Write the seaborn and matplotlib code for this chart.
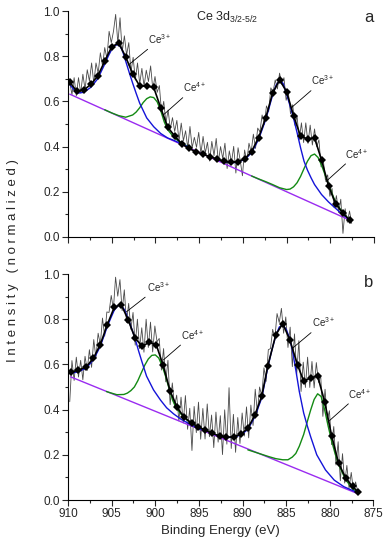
import numpy as np
import matplotlib
import matplotlib.pyplot as plt
import seaborn as sns
from matplotlib.ticker import MultipleLocator

matplotlib.use('Agg')

# ---------------- panel a ----------------
raw_a = [0.685, 0.630, 0.705, 0.625, 0.705, 0.637, 0.720, 0.653, 0.740, 0.690,
         0.770, 0.680, 0.770, 0.725, 0.815, 0.757, 0.838, 0.790, 0.910, 0.860,
         0.910, 0.985, 0.858, 0.970, 0.820, 0.890, 0.805, 0.860, 0.730, 0.795,
         0.695, 0.770, 0.678, 0.746, 0.666, 0.738, 0.688, 0.757, 0.654, 0.710,
         0.640, 0.670, 0.550, 0.600, 0.505, 0.562, 0.478, 0.528, 0.467, 0.516,
         0.425, 0.504, 0.426, 0.470, 0.394, 0.489, 0.395, 0.441, 0.397, 0.463,
         0.369, 0.445, 0.372, 0.419, 0.336, 0.423, 0.360, 0.436, 0.333, 0.400,
         0.347, 0.415, 0.303, 0.381, 0.330, 0.401, 0.283, 0.395, 0.338, 0.271,
         0.385, 0.335, 0.415, 0.376, 0.455, 0.392, 0.482, 0.465, 0.540, 0.498,
         0.580, 0.555, 0.660, 0.640, 0.695, 0.655, 0.725, 0.675, 0.705, 0.605,
         0.640, 0.545, 0.585, 0.495, 0.535, 0.430, 0.505, 0.418, 0.505, 0.414,
         0.495, 0.407, 0.478, 0.400, 0.430, 0.310, 0.340, 0.250, 0.275, 0.180,
         0.215, 0.130, 0.183, 0.108, 0.167, 0.016, 0.125, 0.065, 0.115, 0.060]
raw_a_e = np.linspace(909.8, 877.55, len(raw_a))

fit_a_e = np.linspace(909.8, 877.8, 41)
fit_a = [0.685, 0.645, 0.650, 0.675, 0.712, 0.778, 0.842, 0.858, 0.797, 0.721,
         0.668, 0.668, 0.662, 0.572, 0.486, 0.447, 0.412, 0.392, 0.378, 0.366,
         0.356, 0.346, 0.336, 0.330, 0.334, 0.345, 0.378, 0.440, 0.525, 0.636,
         0.695, 0.643, 0.537, 0.446, 0.434, 0.438, 0.341, 0.226, 0.148, 0.108,
         0.075]

ce3_a1_e = [909.8, 909.0, 908.2, 907.4, 906.6, 905.8, 905.4, 905.0, 904.6, 904.2,
            903.8, 903.4, 903.0, 902.6, 902.2, 901.8, 901.0, 900.2, 899.4, 898.6,
            897.8, 897.0, 896.2]
ce3_a1 = [0.675, 0.636, 0.640, 0.662, 0.700, 0.765, 0.800, 0.830, 0.848, 0.852,
          0.828, 0.778, 0.728, 0.680, 0.635, 0.592, 0.527, 0.488, 0.458, 0.438,
          0.426, 0.412, 0.398]
ce4_a1_e = [905.8, 905.0, 904.2, 903.4, 902.6, 902.2, 901.8, 901.4, 901.0, 900.6,
            900.2, 899.8, 899.4, 899.0, 898.6, 897.8, 897.0, 896.2]
ce4_a1 = [0.563, 0.549, 0.537, 0.530, 0.540, 0.553, 0.572, 0.595, 0.612, 0.620,
          0.617, 0.598, 0.560, 0.510, 0.475, 0.437, 0.415, 0.399]
ce3_a2_e = [893.0, 892.2, 891.4, 890.6, 889.8, 889.0, 888.2, 887.4, 887.0, 886.6,
            886.2, 885.8, 885.4, 885.0, 884.6, 884.2, 883.8, 883.4, 883.0, 882.6,
            882.2, 881.8, 881.0, 880.2, 879.4, 878.6, 877.8]
ce3_a2 = [0.343, 0.334, 0.327, 0.332, 0.342, 0.373, 0.432, 0.518, 0.572, 0.628,
          0.672, 0.692, 0.680, 0.632, 0.580, 0.525, 0.462, 0.395, 0.335, 0.295,
          0.262, 0.232, 0.188, 0.155, 0.127, 0.100, 0.077]
ce4_a2_e = [889.0, 888.2, 887.4, 886.6, 885.8, 885.0, 884.6, 884.2, 883.8, 883.4,
            883.0, 882.6, 882.2, 881.8, 881.4, 881.0, 880.6, 880.2, 879.8, 879.4,
            878.6, 877.8]
ce4_a2 = [0.270, 0.257, 0.245, 0.232, 0.218, 0.210, 0.212, 0.222, 0.240, 0.268,
          0.303, 0.336, 0.360, 0.367, 0.352, 0.318, 0.275, 0.232, 0.192, 0.155,
          0.108, 0.076]
bg_a_e = [909.8, 877.8]
bg_a = [0.632, 0.075]

# ---------------- panel b ----------------
raw_b = [0.435, 0.617, 0.529, 0.632, 0.544, 0.618, 0.532, 0.636, 0.573, 0.665,
         0.587, 0.710, 0.628, 0.738, 0.688, 0.805, 0.725, 0.832, 0.830, 0.905,
         0.845, 0.986, 0.902, 0.975, 0.838, 0.930, 0.785, 0.870, 0.755, 0.830,
         0.685, 0.800, 0.670, 0.762, 0.654, 0.800, 0.675, 0.787, 0.655, 0.770,
         0.700, 0.715, 0.575, 0.670, 0.523, 0.618, 0.422, 0.518, 0.415, 0.464,
         0.350, 0.455, 0.341, 0.462, 0.313, 0.406, 0.219, 0.414, 0.298, 0.433,
         0.269, 0.405, 0.270, 0.425, 0.280, 0.376, 0.232, 0.389, 0.256, 0.373,
         0.201, 0.399, 0.247, 0.497, 0.228, 0.379, 0.211, 0.365, 0.250, 0.385,
         0.283, 0.412, 0.275, 0.420, 0.330, 0.490, 0.385, 0.500, 0.460, 0.585,
         0.525, 0.665, 0.670, 0.755, 0.715, 0.825, 0.785, 0.848, 0.738, 0.810,
         0.675, 0.765, 0.590, 0.735, 0.555, 0.705, 0.480, 0.610, 0.498, 0.632,
         0.498, 0.613, 0.496, 0.608, 0.520, 0.550, 0.370, 0.490, 0.355, 0.395,
         0.245, 0.325, 0.155, 0.258, 0.085, 0.205, 0.075, 0.153, 0.052, 0.122,
         0.042, 0.080, 0.037]
raw_b_e = np.linspace(909.8, 876.8, len(raw_b))

fit_b_e = [909.7, 908.8, 907.9, 907.1, 906.3, 905.5, 904.7, 903.9, 903.1, 902.3,
           901.5, 900.7, 899.9, 899.1, 898.3, 897.5, 896.7, 895.8, 895.1, 894.3,
           893.5, 892.6, 891.9, 891.0, 890.2, 889.4, 888.6, 887.8, 887.1, 886.2,
           885.4, 884.6, 883.7, 883.0, 882.2, 881.4, 880.6, 879.8, 879.0, 878.2,
           877.4, 876.8]
fit_b = [0.566, 0.574, 0.590, 0.627, 0.688, 0.776, 0.853, 0.865, 0.796, 0.715,
         0.681, 0.697, 0.688, 0.596, 0.482, 0.410, 0.366, 0.339, 0.324, 0.310,
         0.295, 0.283, 0.277, 0.280, 0.291, 0.317, 0.375, 0.460, 0.595, 0.730,
         0.781, 0.710, 0.597, 0.527, 0.540, 0.549, 0.435, 0.285, 0.163, 0.098,
         0.060, 0.037]

ce3_b1_e = [909.7, 908.8, 907.9, 907.1, 906.3, 905.5, 905.1, 904.7, 904.3, 903.9,
            903.5, 903.1, 902.7, 902.3, 901.9, 901.5, 901.0, 900.2, 899.4, 898.7,
            897.9, 897.0, 895.8, 894.8]
ce3_b1 = [0.560, 0.568, 0.584, 0.620, 0.680, 0.768, 0.805, 0.840, 0.860, 0.862,
          0.840, 0.800, 0.758, 0.712, 0.658, 0.608, 0.548, 0.487, 0.442, 0.408,
          0.381, 0.356, 0.331, 0.312]
ce4_b1_e = [905.6, 905.2, 904.4, 903.6, 903.2, 902.8, 902.4, 902.0, 901.6, 901.2,
            900.8, 900.4, 900.0, 899.6, 899.2, 898.8, 898.4, 898.0, 897.6, 897.1,
            896.4, 895.2, 894.8]
ce4_b1 = [0.480, 0.475, 0.466, 0.467, 0.473, 0.484, 0.500, 0.528, 0.563, 0.597,
          0.624, 0.640, 0.642, 0.628, 0.592, 0.545, 0.490, 0.440, 0.408, 0.382,
          0.355, 0.325, 0.312]
ce3_b2_e = [893.5, 892.6, 891.9, 891.0, 890.2, 889.4, 888.6, 887.8, 887.1, 886.6,
            886.2, 885.8, 885.4, 885.0, 884.6, 884.3, 883.9, 883.5, 883.0, 882.6,
            882.2, 881.5, 880.5, 879.5, 878.4, 877.4, 876.8]
ce3_b2 = [0.294, 0.283, 0.276, 0.278, 0.288, 0.312, 0.368, 0.452, 0.590, 0.670,
          0.726, 0.765, 0.775, 0.755, 0.715, 0.665, 0.575, 0.480, 0.385, 0.330,
          0.280, 0.200, 0.133, 0.088, 0.059, 0.042, 0.032]
ce4_b2_e = [889.4, 888.6, 887.8, 887.0, 886.2, 885.4, 884.8, 884.3, 883.9, 883.5,
            883.0, 882.6, 882.2, 881.8, 881.4, 881.0, 880.6, 880.2, 879.8, 879.4,
            879.0, 878.2, 877.4, 876.8]
ce4_b2 = [0.222, 0.212, 0.202, 0.192, 0.183, 0.178, 0.178, 0.190, 0.206, 0.238,
          0.290, 0.345, 0.398, 0.445, 0.470, 0.458, 0.400, 0.328, 0.262, 0.205,
          0.158, 0.090, 0.050, 0.032]
bg_b_e = [909.7, 876.8]
bg_b = [0.545, 0.028]

# label text, text anchor, arrow tip (data units)
labels_a = [('Ce$^{3+}$', (900.8, 0.845), (903.1, 0.761)),
            ('Ce$^{4+}$', (896.9, 0.631), (899.1, 0.540)),
            ('Ce$^{3+}$', (882.2, 0.662), (884.4, 0.574)),
            ('Ce$^{4+}$', (878.3, 0.338), (880.5, 0.245))]
labels_b = [('Ce$^{3+}$', (901.0, 0.912), (903.3, 0.833)),
            ('Ce$^{4+}$', (897.1, 0.700), (899.1, 0.619)),
            ('Ce$^{3+}$', (882.1, 0.755), (884.3, 0.671)),
            ('Ce$^{4+}$', (877.9, 0.440), (880.2, 0.346))]

BLUE = '#1414d8'
GREEN = '#138a13'
VIOLET = '#9a2bf0'


def draw_panel(ax, raw_e, raw, fit_e, fit, comps, bg_e, bg, labels):
    sns.lineplot(x=raw_e, y=raw, ax=ax, color='#4a4a4a', linewidth=0.6, zorder=1)
    sns.lineplot(x=bg_e, y=bg, ax=ax, color=VIOLET, linewidth=1.0, zorder=2)
    for e, v, c in comps:
        sns.lineplot(x=e, y=v, ax=ax, color=c, linewidth=1.0, zorder=3)
    sns.lineplot(x=fit_e, y=fit, ax=ax, color='black', linewidth=1.2,
                 marker='D', markersize=4.3, markeredgewidth=0, zorder=4)
    for txt, xt, xy in labels:
        ax.annotate(txt, xy=xy, xytext=xt, fontsize=7, ha='left', va='bottom',
                    arrowprops=dict(arrowstyle='-', lw=0.6, color='black',
                                    shrinkA=0, shrinkB=0))
    ax.set_xlim(910, 875)
    ax.set_ylim(0, 1.0)
    ax.xaxis.set_major_locator(MultipleLocator(5))
    ax.xaxis.set_minor_locator(MultipleLocator(2.5))
    ax.yaxis.set_major_locator(MultipleLocator(0.2))
    ax.yaxis.set_minor_locator(MultipleLocator(0.1))
    ax.yaxis.set_major_formatter(matplotlib.ticker.FormatStrFormatter('%.1f'))
    ax.tick_params(which='major', direction='out', length=4, width=0.8,
                   labelsize=8.5, pad=2)
    ax.tick_params(which='minor', direction='out', length=2.5, width=0.8)
    for s in ['top', 'right']:
        ax.spines[s].set_visible(False)
    for s in ['left', 'bottom']:
        ax.spines[s].set_linewidth(0.8)
        ax.spines[s].set_color('black')
    ax.set_xlabel('')
    ax.set_ylabel('')


def main():
    sns.set_style('ticks')
    plt.rcParams['font.family'] = ['Liberation Sans', 'DejaVu Sans']
    plt.rcParams['mathtext.default'] = 'regular'

    fig = plt.figure(figsize=(3.86, 5.5), dpi=100)
    ax_a = fig.add_axes([0.1762, 0.5691, 0.7927, 0.4109])
    ax_b = fig.add_axes([0.1762, 0.0909, 0.7914, 0.4109])

    draw_panel(ax_a, raw_a_e, raw_a, fit_a_e, fit_a,
               [(ce4_a1_e, ce4_a1, GREEN), (ce4_a2_e, ce4_a2, GREEN),
                (ce3_a1_e, ce3_a1, BLUE), (ce3_a2_e, ce3_a2, BLUE)],
               bg_a_e, bg_a, labels_a)
    draw_panel(ax_b, raw_b_e, raw_b, fit_b_e, fit_b,
               [(ce4_b1_e, ce4_b1, GREEN), (ce4_b2_e, ce4_b2, GREEN),
                (ce3_b1_e, ce3_b1, BLUE), (ce3_b2_e, ce3_b2, BLUE)],
               bg_b_e, bg_b, labels_b)

    ax_a.tick_params(axis='x', labelbottom=False)
    ax_a.text(0.418, 0.957, 'Ce 3d$_{3/2\u20105/2}$', transform=ax_a.transAxes,
              fontsize=9, ha='left', va='baseline')
    ax_a.text(1.0, 0.951, 'a', transform=ax_a.transAxes, fontsize=12,
              ha='right', va='baseline')
    ax_b.text(1.0, 0.942, 'b', transform=ax_b.transAxes, fontsize=12,
              ha='right', va='baseline')

    ax_b.set_xlabel('Binding Energy (eV)', fontsize=9.5, labelpad=3)
    fig.text(0.034, 0.527, 'I n t e n s i t y   ( n o r m a l i z e d )',
             rotation=90, fontsize=9.5, ha='center', va='center')

    fig.savefig('out.png', dpi=100)
    plt.close(fig)


if __name__ == "__main__":
    main()
